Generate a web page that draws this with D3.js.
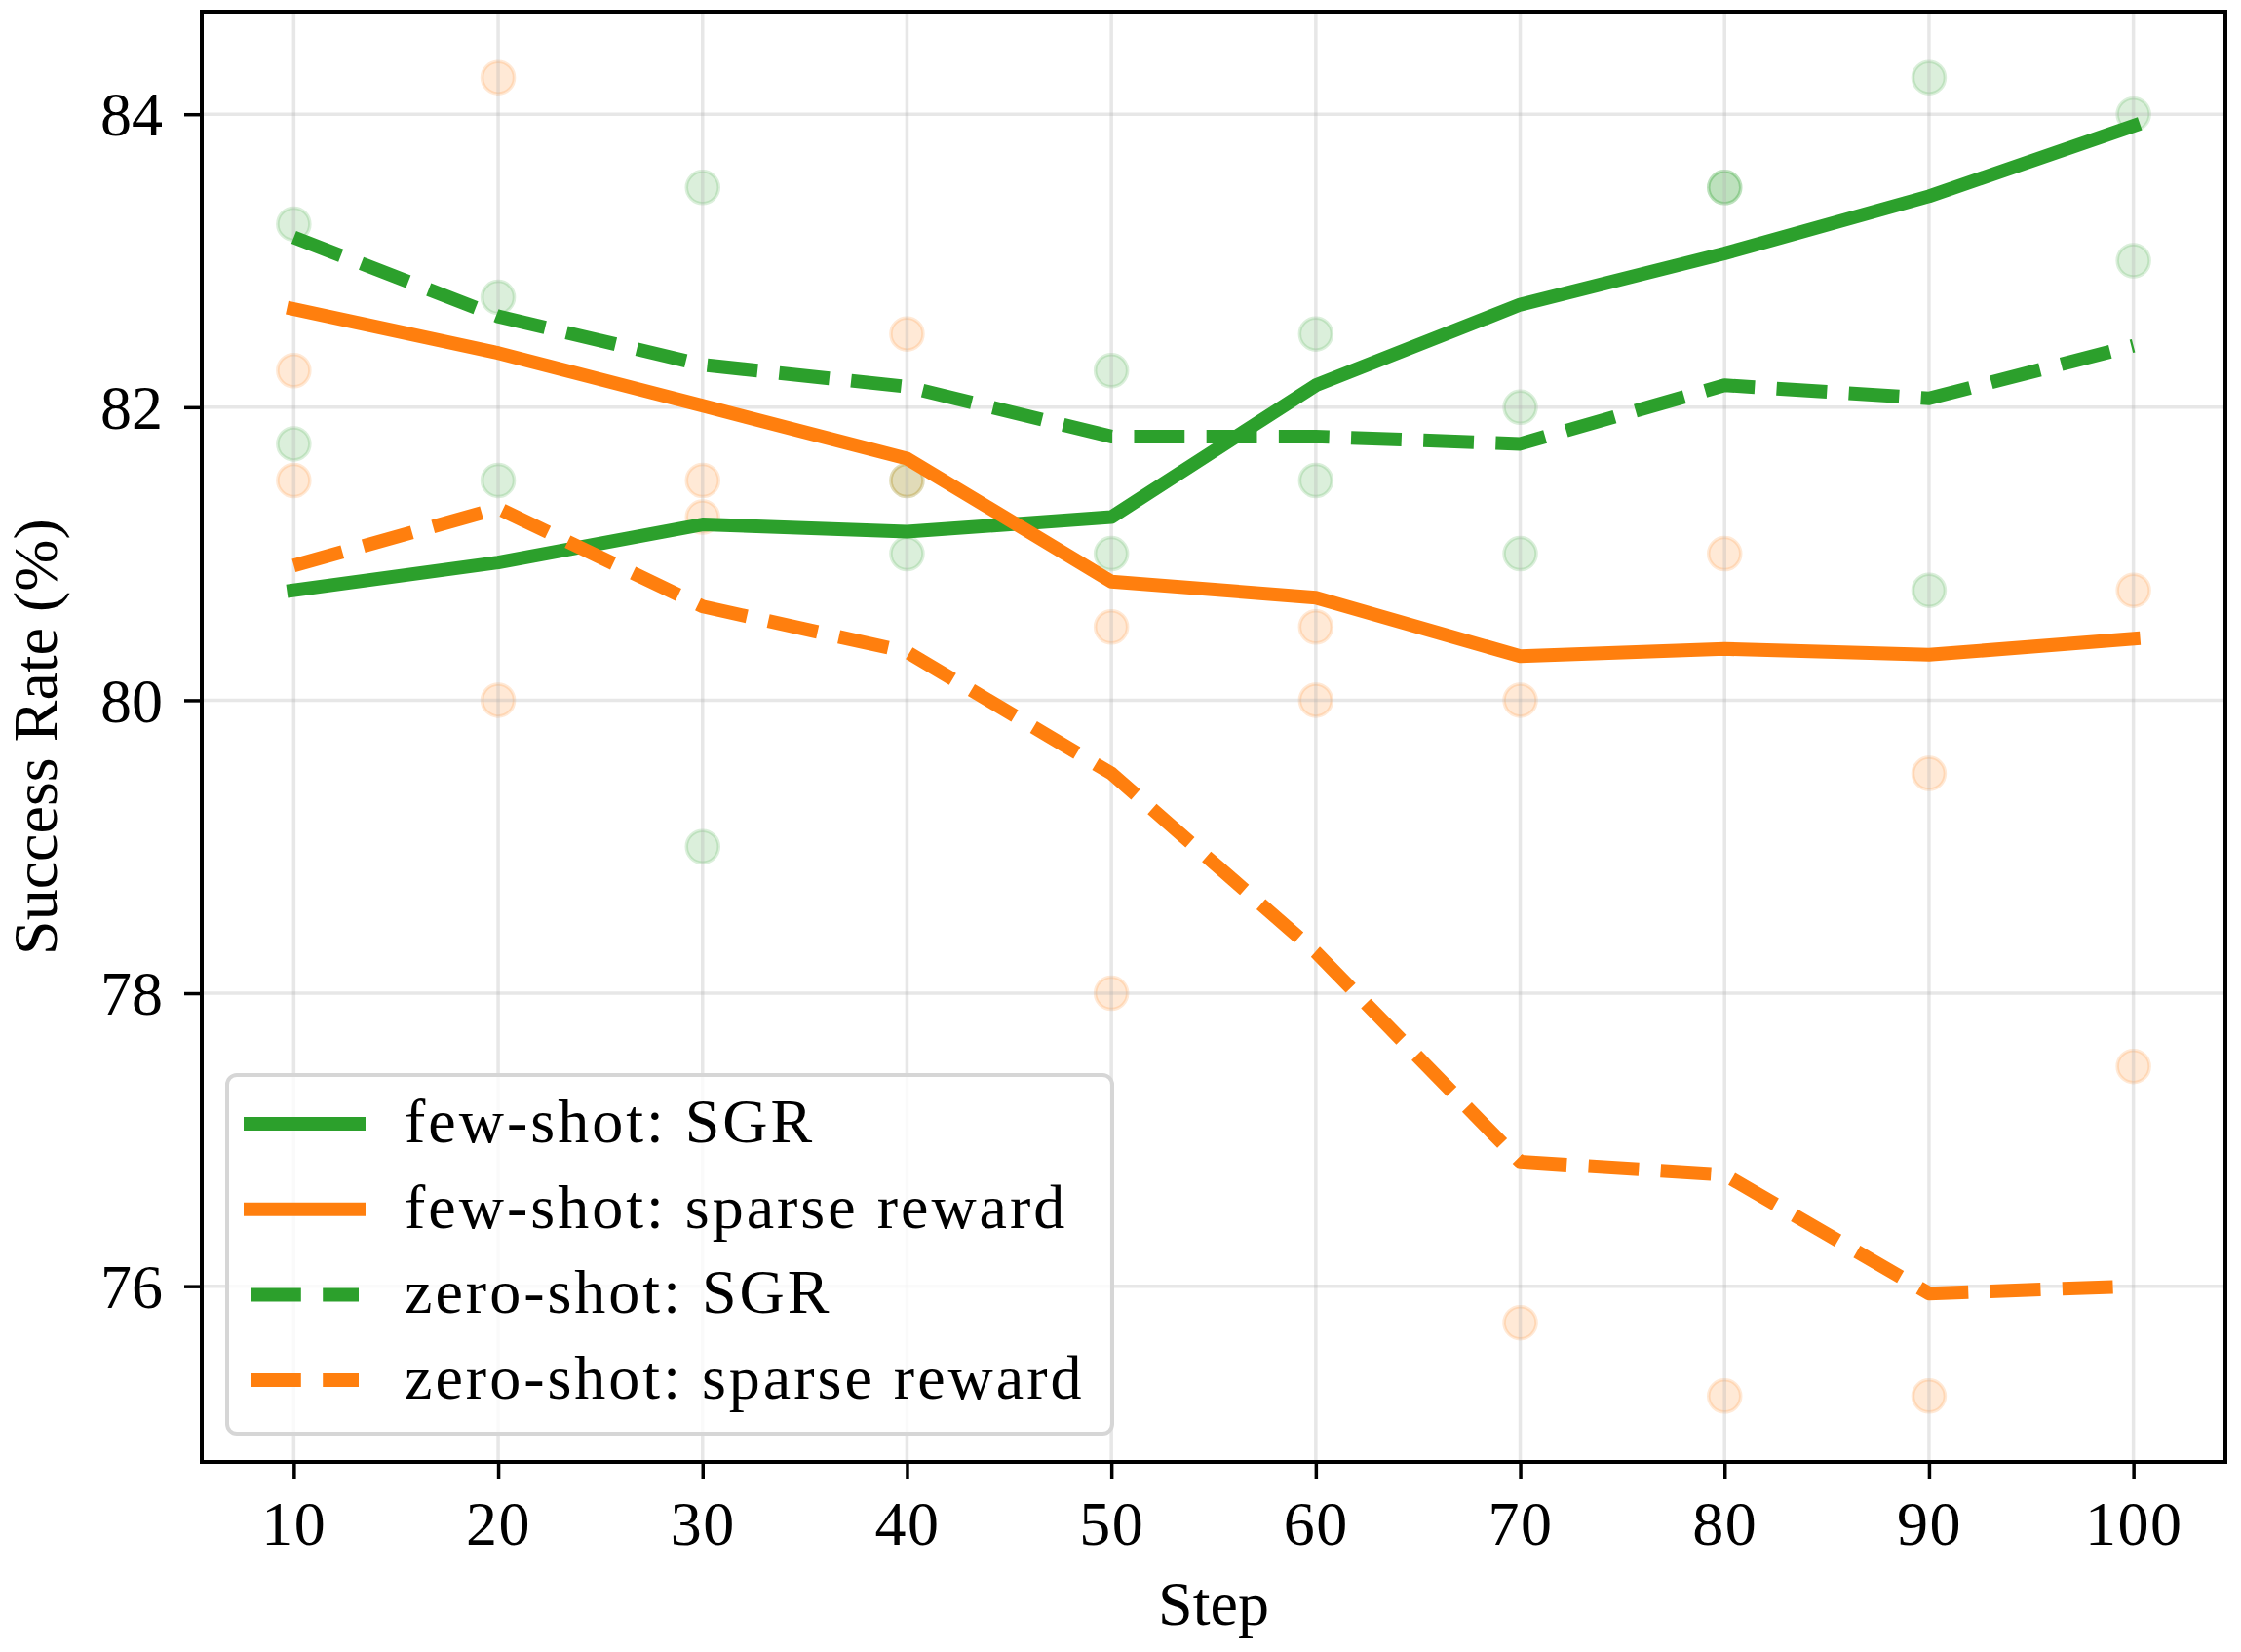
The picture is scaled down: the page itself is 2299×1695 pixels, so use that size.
<!DOCTYPE html>
<html>
<head>
<meta charset="utf-8">
<script src="https://cdn.jsdelivr.net/npm/d3@7"></script>
<style>
  html, body { margin: 0; padding: 0; background: #fff; }
  text { font-family: "Liberation Serif", "Times New Roman", serif; fill: #000; }
</style>
</head>
<body>
<div id="chart"></div>
<script>
// Data

const steps = [10, 20, 30, 40, 50, 60, 70, 80, 90, 100];
const yTicks = [76, 78, 80, 82, 84];

const fewShotSgr = [80.75, 80.94, 81.2, 81.15, 81.25, 82.15, 82.7, 83.05, 83.44, 83.92];
const fewShotSparse = [82.67, 82.37, 82.01, 81.65, 80.81, 80.7, 80.3, 80.35, 80.31, 80.42];
const zeroShotSgr = [83.16, 82.62, 82.29, 82.14, 81.8, 81.8, 81.75, 82.15, 82.06, 82.42];
const zeroShotSparse = [80.92, 81.31, 80.64, 80.33, 79.5, 78.28, 76.85, 76.76, 75.95, 76.0];

// individual runs (step, value)
const sgrRuns = [
  [10, 83.25], [10, 81.75], [20, 82.75], [20, 81.5], [30, 83.5], [30, 79.0],
  [40, 81.5], [40, 81.0], [50, 82.25], [50, 81.0], [60, 82.5], [60, 81.5],
  [70, 82.0], [70, 81.0], [80, 83.5], [80, 83.5], [90, 84.25], [90, 80.75],
  [100, 84.0], [100, 83.0],
];
const sparseRuns = [
  [10, 82.25], [10, 81.5], [20, 84.25], [20, 80.0], [30, 81.5], [30, 81.25],
  [40, 82.5], [40, 81.5], [50, 80.5], [50, 78.0], [60, 80.5], [60, 80.0],
  [70, 80.0], [70, 75.75], [80, 81.0], [80, 75.25], [90, 79.5], [90, 75.25],
  [100, 80.75], [100, 77.5],
];

const seriesNames = [
  "few-shot: SGR",
  "few-shot: sparse reward",
  "zero-shot: SGR",
  "zero-shot: sparse reward",
];

const green = "#2ca02c";
const orange = "#ff7f0e";

function createChart(containerId) {
  const width = 2299;
  const height = 1695;
  const margin = { top: 12, bottom: 195, left: 207, right: 16 };
  const lineWidth = 14;
  const dash = "51.8 22.4";

  const svg = d3
    .select(containerId)
    .append("svg")
    .attr("width", width)
    .attr("height", height);

  const xScale = d3
    .scaleLinear()
    .domain([5.5, 104.5])
    .range([margin.left, width - margin.right]);

  const yScale = d3
    .scaleLinear()
    .domain([74.8, 84.7])
    .range([height - margin.bottom, margin.top]);

  const series = [
    { name: seriesNames[0], values: fewShotSgr, color: green, dashed: false },
    { name: seriesNames[1], values: fewShotSparse, color: orange, dashed: false },
    { name: seriesNames[2], values: zeroShotSgr, color: green, dashed: true },
    { name: seriesNames[3], values: zeroShotSparse, color: orange, dashed: true },
  ];

  // Scatter of runs (under the grid)

  const runs = sgrRuns
    .map((d) => ({ x: d[0], y: d[1], color: green }))
    .concat(sparseRuns.map((d) => ({ x: d[0], y: d[1], color: orange })));

  svg
    .append("g")
    .selectAll("circle")
    .data(runs)
    .enter()
    .append("circle")
    .attr("cx", (d) => xScale(d.x))
    .attr("cy", (d) => yScale(d.y))
    .attr("r", 16.5)
    .attr("fill", (d) => d.color)
    .attr("fill-opacity", 0.17)
    .attr("stroke", (d) => d.color)
    .attr("stroke-opacity", 0.17)
    .attr("stroke-width", 3.5);

  // Grid

  const grid = svg
    .append("g")
    .attr("stroke", "#b0b0b0")
    .attr("stroke-opacity", 0.3)
    .attr("stroke-width", 3.5);

  grid
    .selectAll("line.v")
    .data(steps)
    .enter()
    .append("line")
    .attr("x1", (d) => xScale(d))
    .attr("x2", (d) => xScale(d))
    .attr("y1", margin.top)
    .attr("y2", height - margin.bottom);

  grid
    .selectAll("line.h")
    .data(yTicks)
    .enter()
    .append("line")
    .attr("x1", margin.left)
    .attr("x2", width - margin.right)
    .attr("y1", (d) => yScale(d))
    .attr("y2", (d) => yScale(d));

  // Lines

  const line = d3
    .line()
    .x((d, i) => xScale(steps[i]))
    .y((d) => yScale(d));

  series.forEach((s) => {
    svg
      .append("path")
      .datum(s.values)
      .attr("fill", "none")
      .attr("stroke", s.color)
      .attr("stroke-width", lineWidth)
      .attr("stroke-linejoin", "round")
      .attr("stroke-linecap", s.dashed ? "butt" : "square")
      .attr("stroke-dasharray", s.dashed ? dash : null)
      .attr("d", line);
  });

  // Axes

  const xAxis = svg
    .append("g")
    .attr("transform", `translate(0, ${height - margin.bottom})`)
    .call(d3.axisBottom(xScale).tickValues(steps).tickSize(18).tickPadding(22));

  const yAxis = svg
    .append("g")
    .attr("transform", `translate(${margin.left}, 0)`)
    .call(d3.axisLeft(yScale).tickValues(yTicks).tickSize(18).tickPadding(22));

  [xAxis, yAxis].forEach((ax) => {
    ax.select(".domain").remove();
    ax.selectAll(".tick line").attr("stroke", "#000").attr("stroke-width", 3.5);
    ax.selectAll(".tick text")
      .attr("font-family", "Liberation Serif, serif")
      .attr("font-size", 64)
      .attr("fill", "#000");
  });
  xAxis.selectAll(".tick text").attr("dy", "0.71em").attr("letter-spacing", 1.5);
  yAxis.selectAll(".tick text").attr("dy", "0.34em");

  svg
    .append("rect")
    .attr("x", margin.left)
    .attr("y", margin.top)
    .attr("width", width - margin.left - margin.right)
    .attr("height", height - margin.top - margin.bottom)
    .attr("fill", "none")
    .attr("stroke", "#000")
    .attr("stroke-width", 4);

  svg
    .append("text")
    .attr("x", (margin.left + width - margin.right) / 2)
    .attr("y", 1667)
    .attr("text-anchor", "middle")
    .attr("font-size", 64)
    .text("Step");

  svg
    .append("text")
    .attr("transform", `translate(58, ${(margin.top + height - margin.bottom) / 2}) rotate(-90)`)
    .attr("text-anchor", "middle")
    .attr("font-size", 64)
    .text("Success Rate (%)");

  // Legend

  const legend = svg.append("g").attr("transform", "translate(233, 1103)");

  legend
    .append("rect")
    .attr("width", 908)
    .attr("height", 368)
    .attr("rx", 10)
    .attr("fill", "#fff")
    .attr("fill-opacity", 0.8)
    .attr("stroke", "#d6d6d6")
    .attr("stroke-width", 4);

  const rowHeight = 87.7;
  const rows = legend
    .selectAll("g.row")
    .data(series)
    .enter()
    .append("g")
    .attr("transform", (d, i) => `translate(0, ${50 + i * rowHeight})`);

  rows
    .append("line")
    .attr("x1", 24)
    .attr("x2", 135)
    .attr("stroke", (d) => d.color)
    .attr("stroke-width", lineWidth)
    .attr("stroke-linecap", (d) => (d.dashed ? "butt" : "square"))
    .attr("stroke-dasharray", (d) => (d.dashed ? dash : null));

  rows
    .append("text")
    .attr("x", 182)
    .attr("y", 19)
    .attr("font-size", 64)
    .attr("letter-spacing", 3)
    .text((d) => d.name);
}

createChart("#chart");
</script>
</body>
</html>
